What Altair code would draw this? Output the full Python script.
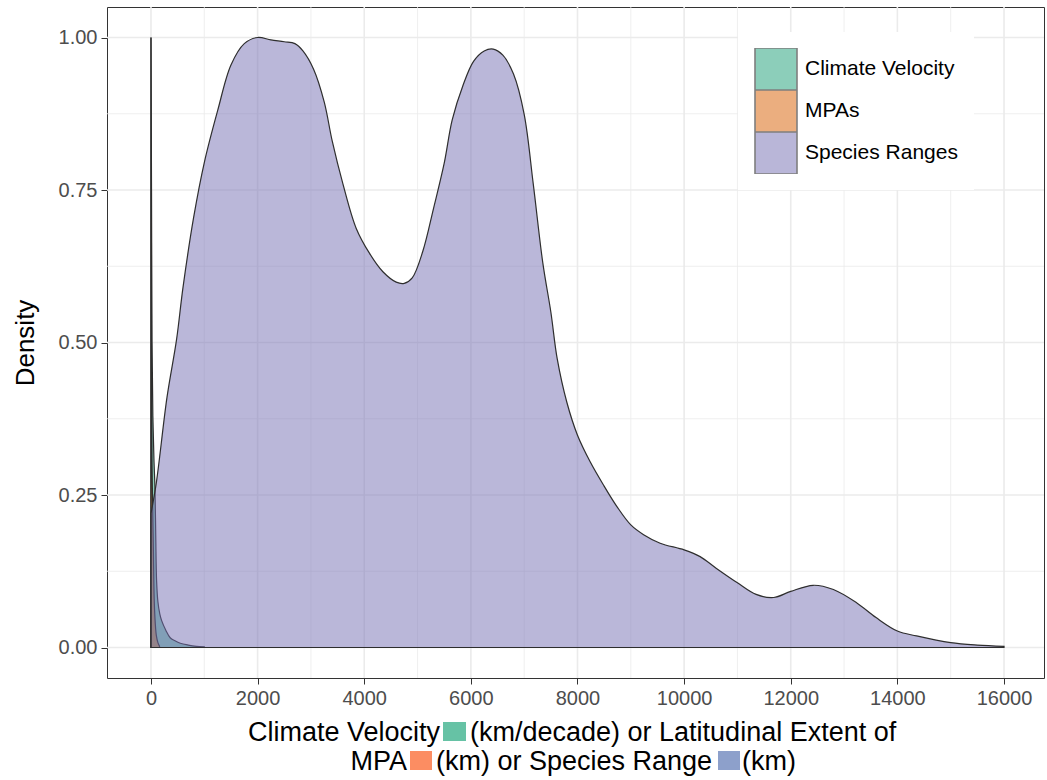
import altair as alt
import pandas as pd

# ---- series: scaled kernel density per group -------------------------------
SERIES = ["Climate Velocity", "MPAs", "Species Ranges"]
FILL = ["#1B9E77", "#D95F02", "#7570B3"]

cv_x = [0, 10, 20, 35, 55, 75, 90, 105, 130, 165, 200, 280, 360, 450, 550, 700, 850, 1000]
cv_y = [1.0, 0.75, 0.5, 0.38, 0.31, 0.26, 0.18, 0.11, 0.075, 0.055, 0.044, 0.028, 0.016,
        0.011, 0.007, 0.004, 0.002, 0.001]

mpa_x = [0, 5, 10, 20, 30, 45, 60, 80, 100, 130, 160]
mpa_y = [1.0, 0.7, 0.45, 0.3, 0.24, 0.16, 0.08, 0.04, 0.02, 0.008, 0.002]

sr_x = [0, 100, 300, 480, 600, 800, 1000, 1250, 1500, 1750,
        2000, 2250, 2500, 2700, 2850, 3050, 3250, 3400, 3600, 3850,
        4100, 4350, 4600, 4750, 4900, 5100, 5300, 5500, 5650, 5850,
        6050, 6250, 6420, 6600, 6800, 7000, 7170, 7350, 7500, 7620,
        7800, 8000, 8240, 8490, 8740, 9000, 9240, 9550, 10000, 10300,
        10600, 11000, 11350, 11680, 12000, 12420, 12800, 13240, 13600, 14000,
        14360, 15000, 15500, 16000]
sr_y = [0.22, 0.27, 0.41, 0.505, 0.59, 0.705, 0.795, 0.88, 0.955, 0.99,
        1.0, 0.996, 0.993, 0.99, 0.978, 0.948, 0.894, 0.83, 0.76, 0.687,
        0.646, 0.616, 0.599, 0.597, 0.606, 0.65, 0.72, 0.794, 0.865, 0.921,
        0.961, 0.978, 0.981, 0.971, 0.94, 0.874, 0.76, 0.63, 0.55, 0.473,
        0.402, 0.348, 0.304, 0.266, 0.231, 0.201, 0.185, 0.171, 0.16, 0.149,
        0.13, 0.106, 0.087, 0.082, 0.092, 0.102, 0.095, 0.073, 0.049, 0.027,
        0.019, 0.008, 0.004, 0.002]

# ---- axis ticks and grid ----------------------------------------------------
x_major = [0, 2000, 4000, 6000, 8000, 10000, 12000, 14000, 16000]
x_minor = [1000, 3000, 5000, 7000, 9000, 11000, 13000, 15000]
y_major = [0.0, 0.25, 0.5, 0.75, 1.0]
y_minor = [0.125, 0.375, 0.625, 0.875]

X_DOMAIN = [-825, 16750]
Y_DOMAIN = [-0.05, 1.05]

W, H = 937, 671
FONT = "Liberation Sans"

rows = []
for name, xv, yv in [(SERIES[0], cv_x, cv_y), (SERIES[1], mpa_x, mpa_y), (SERIES[2], sr_x, sr_y)]:
    for a, b in zip(xv, yv):
        rows.append({"group": name, "value": a, "density": b})
dens = pd.DataFrame(rows)

xs = alt.Scale(domain=X_DOMAIN, nice=False, zero=False)
ys = alt.Scale(domain=Y_DOMAIN, nice=False, zero=False)

GRID = "#EBEBEB"

vminor = alt.Chart(pd.DataFrame({"v": x_minor})).mark_rule(color=GRID, strokeWidth=0.8).encode(
    x=alt.X("v:Q", scale=xs))
vmajor = alt.Chart(pd.DataFrame({"v": x_major})).mark_rule(color=GRID, strokeWidth=1.6).encode(
    x=alt.X("v:Q", scale=xs))
hminor = alt.Chart(pd.DataFrame({"v": y_minor})).mark_rule(color=GRID, strokeWidth=0.8).encode(
    y=alt.Y("v:Q", scale=ys))
hmajor = alt.Chart(pd.DataFrame({"v": y_major})).mark_rule(color=GRID, strokeWidth=1.6).encode(
    y=alt.Y("v:Q", scale=ys))

areas = alt.Chart(dens).mark_area(
    fillOpacity=0.5, stroke="#2E2E2E", strokeWidth=1.2, interpolate="catmull-rom"
).encode(
    x=alt.X("value:Q", scale=xs, title=None,
            axis=alt.Axis(values=x_major, format="d", grid=False)),
    y=alt.Y("density:Q", scale=ys, title="Density", stack=None,
            axis=alt.Axis(values=y_major, format=".2f", grid=False)),
    color=alt.Color(
        "group:N",
        scale=alt.Scale(domain=SERIES, range=FILL),
        legend=alt.Legend(
            title=None, orient="none", legendX=631, legendY=25,
            fillColor="white", padding=16,
            symbolType="square", symbolSize=1764, symbolOpacity=0.5,
            symbolStrokeColor="#000000", symbolStrokeWidth=1.6,
            labelFontSize=21, labelFont=FONT, labelColor="#000000",
            labelOffset=7, rowPadding=0, clipHeight=42, labelLimit=300,
        ),
    ),
)

# ---- two-line x title with coloured key squares ----------------------------
TITLE_SIZE = 27


def seg(text, anchor, base, align="left"):
    return alt.Chart(pd.DataFrame({"t": [text]})).mark_text(
        align=align, baseline="alphabetic", fontSize=TITLE_SIZE, font=FONT, color="#000000"
    ).encode(x=alt.value(anchor - 107), y=alt.value(base - 7), text="t:N")


def key(color, left, right, top, bottom):
    return alt.Chart(pd.DataFrame({"k": [0]})).mark_rect(color=color).encode(
        x=alt.value(left - 107), x2=alt.value(right - 107),
        y=alt.value(top - 7), y2=alt.value(bottom - 7))


title_layers = [
    seg("Climate Velocity", 440, 741, "right"),
    key("#66C2A5", 443, 466, 722, 741),
    seg("(km/decade) or Latitudinal Extent of", 470, 741),
    seg("MPA", 407, 770, "right"),
    key("#FC8D62", 410, 432, 751, 770),
    seg("(km) or Species Range", 436, 770),
    key("#8DA0CB", 718, 740, 751, 770),
    seg("(km)", 742, 770),
]

chart = alt.layer(vminor, vmajor, hminor, hmajor, areas, *title_layers).properties(
    width=W, height=H,
    background="white",
    autosize=alt.AutoSizeParams(type="none"),
    padding={"left": 107, "top": 7, "right": 3, "bottom": 102},
).configure_view(
    stroke="#333333", strokeWidth=1
).configure_axis(
    domain=False, tickColor="#333333", tickSize=6, tickWidth=1,
    labelColor="#4D4D4D", labelFontSize=20, labelFont=FONT, labelPadding=4,
    titleFont=FONT, titleFontSize=26, titleFontWeight="normal", titleColor="#000000",
).configure_axisY(
    titlePadding=20
)

chart.save("out.html", embed_options={"renderer": "svg", "actions": False})
